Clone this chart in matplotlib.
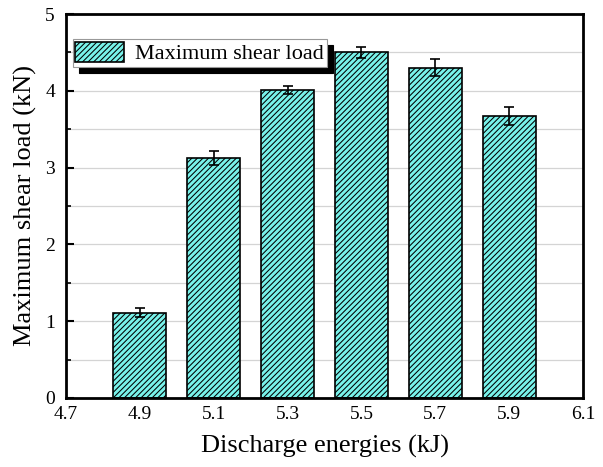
import matplotlib
matplotlib.use("Agg")
import matplotlib.pyplot as plt
from matplotlib.ticker import MultipleLocator

energies = [4.9, 5.1, 5.3, 5.5, 5.7, 5.9]
shear_load = [1.11, 3.13, 4.01, 4.50, 4.30, 3.67]
shear_err = [0.06, 0.09, 0.05, 0.07, 0.11, 0.12]
xticks = [4.7, 4.9, 5.1, 5.3, 5.5, 5.7, 5.9, 6.1]
xtick_labels = ["4.7", "4.9", "5.1", "5.3", "5.5", "5.7", "5.9", "6.1"]

plt.rcParams['font.family'] = ['Liberation Serif', 'DejaVu Serif']
plt.rcParams['hatch.linewidth'] = 0.75
plt.rcParams['hatch.color'] = '#1a3a3a'

fig = plt.figure(figsize=(6.03, 4.67), dpi=100)
ax = fig.add_axes([0.1095, 0.1478, 0.8575, 0.8222])

ax.set_axisbelow(True)
ax.grid(axis='y', which='both', color='#d4d4d4', linewidth=0.9)

ax.bar(energies, shear_load, width=0.144, color='#78F2EA', edgecolor='black',
       linewidth=1.2, hatch='//////', label='Maximum shear load', zorder=2)
ax.errorbar(energies, shear_load, yerr=shear_err, fmt='none', ecolor='black',
            elinewidth=1.2, capsize=3.8, capthick=1.2, zorder=3)

ax.set_xlim(4.7, 6.1)
ax.set_ylim(0, 5)
ax.set_xticks(xticks)
ax.set_xticklabels(xtick_labels)
ax.yaxis.set_major_locator(MultipleLocator(1))
ax.yaxis.set_minor_locator(MultipleLocator(0.5))

ax.tick_params(axis='y', which='major', direction='in', length=6, width=1.5,
               labelsize=14, pad=8, right=False)
ax.tick_params(axis='y', which='minor', direction='in', length=3.5, width=1.2, right=False)
ax.tick_params(axis='x', which='both', length=0, labelsize=14, pad=6)

for s in ax.spines.values():
    s.set_linewidth(2)
    s.set_color('black')

ax.set_xlabel('Discharge energies (kJ)', fontsize=19, labelpad=8)
ax.set_ylabel('Maximum shear load (kN)', fontsize=19, labelpad=6)

leg = ax.legend(loc='upper left', bbox_to_anchor=(0.013, 0.935), fontsize=16,
                frameon=True, fancybox=False, handlelength=2.2, handleheight=1.0,
                borderaxespad=0, borderpad=0.12, handletextpad=0.5,
                shadow={'ox': 4.5, 'oy': -4.5, 'color': 'black', 'alpha': 1})
leg.get_frame().set_edgecolor('#999999')
leg.get_frame().set_linewidth(0.8)
leg.get_frame().set_facecolor('white')
leg.get_frame().set_alpha(1)

fig.savefig('out.png', dpi=100)
